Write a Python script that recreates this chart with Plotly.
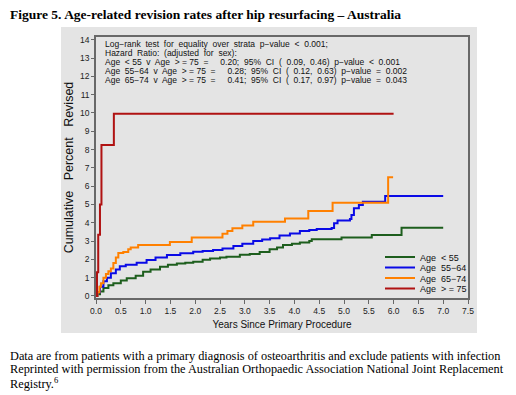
import plotly.graph_objects as go

# ---------------- data ----------------
lt55_x = [0, 0.03, 0.08, 0.15, 0.25, 0.35, 0.5, 0.62, 0.8, 0.95, 1.1, 1.29, 1.45, 1.63, 1.8, 1.96, 2.15, 2.3, 2.5, 2.63,
          2.9, 3.1, 3.3, 3.5, 3.65, 3.77, 3.95, 4.11, 4.3, 4.35, 4.95, 5.56, 6.16, 7.0]
lt55_y = [0, 0.1, 0.25, 0.43, 0.58, 0.7, 0.85, 0.97, 1.1, 1.33, 1.45, 1.6, 1.7, 1.78, 1.82, 1.87, 1.98, 2.05, 2.1, 2.15,
          2.25, 2.3, 2.4, 2.55, 2.65, 2.79, 2.85, 2.92, 3.0, 3.1, 3.19, 3.33, 3.73, 3.73]

a5564_x = [0, 0.03, 0.08, 0.15, 0.22, 0.3, 0.4, 0.48, 0.6, 0.82, 1.02, 1.2, 1.43, 1.7, 1.96, 2.15, 2.36, 2.55, 2.77,
           2.95, 3.17, 3.35, 3.51, 3.7, 3.91, 4.11, 4.3, 4.45, 4.75, 4.8, 4.87, 5.12, 5.15, 5.2, 5.3, 5.38, 5.83, 7.0]
a5564_y = [0, 0.2, 0.5, 0.8, 1.0, 1.24, 1.45, 1.62, 1.7, 1.82, 1.97, 2.1, 2.24, 2.33, 2.42, 2.46, 2.51, 2.6, 2.73,
           2.85, 3.0, 3.08, 3.15, 3.3, 3.42, 3.55, 3.6, 3.66, 3.72, 3.97, 4.12, 4.2, 4.42, 4.79, 4.97, 5.15, 5.46, 5.46]

a6574_x = [0, 0.03, 0.07, 0.1, 0.15, 0.2, 0.25, 0.3, 0.35, 0.4, 0.45, 0.55, 0.65, 0.7, 0.85, 1.49, 1.93, 2.55, 2.65,
           2.75, 2.95, 3.17, 3.81, 4.28, 4.77, 5.89, 5.99]
a6574_y = [0, 0.2, 0.5, 0.7, 1.0, 1.2, 1.35, 1.5, 1.8, 2.1, 2.35, 2.4, 2.55, 2.65, 2.78, 2.95, 3.2, 3.4, 3.55,
           3.7, 3.85, 4.06, 4.24, 4.64, 5.1, 6.49, 6.49]

ge75_x = [0, 0.02, 0.045, 0.08, 0.11, 0.36, 6.0]
ge75_y = [0, 1.3, 3.35, 5.0, 8.25, 9.95, 9.95]

series_names = ["Age  < 55", "Age  55\u221264", "Age  65\u221274", "Age  > = 75"]
series_colors = ["#1d5e1d", "#0a0ae6", "#ff8000", "#b01212"]

x_ticks = [0.0, 0.5, 1.0, 1.5, 2.0, 2.5, 3.0, 3.5, 4.0, 4.5, 5.0, 5.5, 6.0, 6.5, 7.0, 7.5]
y_ticks = list(range(0, 15))

stats_lines = [
    "Log\u2212rank  test  for  equality  over  strata  p\u2212value  <  0.001;",
    "Hazard  Ratio:  (adjusted  for  sex):",
    "Age  < 55  v  Age  > = 75  =     0.20;  95%  CI  (  0.09,  0.46)  p\u2212value  <  0.001",
    "Age  55\u221264  v  Age  > = 75  =     0.28;  95%  CI  (  0.12,  0.63)  p\u2212value  =  0.002",
    "Age  65\u221274  v  Age  > = 75  =     0.41;  95%  CI  (  0.17,  0.97)  p\u2212value  =  0.043",
]

title_text = "Figure 5. Age-related revision rates after hip resurfacing \u2013 Australia"
caption_lines = [
    "Data are from patients with a primary diagnosis of osteoarthritis and exclude patients with infection",
    "Reprinted with permission from the Australian Orthopaedic Association National Joint Replacement",
    "Registry.<sup>6</sup>",
]

# ---------------- figure ----------------
OFF = 8                      # page body margin of the html page
W, H = 516 - OFF, 395 - OFF
# plot area in window pixels: x 96..468, y 37..298
L = 96 - OFF
R = W - (468 - OFF)
T = 37 - OFF
B = H - (298 - OFF)
plot_h = H - T - B
plot_w = W - L - R

def py(p):  # window pixel y -> paper
    return (H - B - (p - OFF)) / plot_h

def px(p):  # window pixel x -> paper
    return (p - OFF - L) / plot_w

sans = "Liberation Sans, Arial, sans-serif"
serif = "Liberation Serif, Times New Roman, serif"
frame = "#686868"
panel = "#e4e4e4"

fig = go.Figure()
legend_keys = ["legend", "legend2", "legend3", "legend4"]
legend_rows = [257, 267.5, 278, 288.5]
for xs, ys, name, col, lk in zip([lt55_x, a5564_x, a6574_x, ge75_x],
                                 [lt55_y, a5564_y, a6574_y, ge75_y],
                                 series_names, series_colors, legend_keys):
    fig.add_trace(go.Scatter(x=xs, y=ys, mode="lines", name=name, legend=lk,
                             line=dict(color=col, width=2, shape="hv")))

shapes = [dict(type="rect", xref="paper", yref="paper", layer="below",
               x0=px(61), x1=px(477), y0=py(333), y1=py(27),
               fillcolor=panel, line=dict(width=0))]

annotations = []
for i, t in enumerate(stats_lines):
    annotations.append(dict(text=t, xref="paper", yref="paper", x=px(103), y=py(44 + 9 * i),
                            xanchor="left", yanchor="middle", showarrow=False,
                            font=dict(family=sans, size=8.5, color="#111")))
annotations.append(dict(text="<b>" + title_text + "</b>", xref="paper", yref="paper",
                        x=px(8), y=py(14.5), xanchor="left", yanchor="middle", showarrow=False,
                        font=dict(family=serif, size=13.5, color="#000")))
for i, t in enumerate(caption_lines):
    annotations.append(dict(text=t, xref="paper", yref="paper", x=px(8), y=py(355.5 + 13.5 * i),
                            xanchor="left", yanchor="middle", showarrow=False,
                            font=dict(family=serif, size=12.3, color="#000")))

layout_legends = {}
for lk, row in zip(legend_keys, legend_rows):
    layout_legends[lk] = dict(x=px(380), y=py(row), xanchor="left", yanchor="middle",
                              bgcolor="rgba(0,0,0,0)", borderwidth=0,
                              font=dict(family=sans, size=9, color="#111"),
                              itemwidth=30)

fig.update_layout(
    width=W, height=H,
    margin=dict(l=L, r=R, t=T, b=B, pad=0),
    paper_bgcolor="white", plot_bgcolor=panel,
    font=dict(family=sans, color="#111"),
    shapes=shapes, annotations=annotations,
    showlegend=True,
    **layout_legends,
    xaxis=dict(range=[0, 7.5], tickvals=x_ticks, ticktext=[f"{v:.1f}" for v in x_ticks],
               showgrid=False, zeroline=False, showline=True, linecolor=frame, linewidth=1.5,
               mirror=True, ticks="outside", ticklen=4, tickcolor=frame,
               tickfont=dict(size=8.5, family=sans, color="#222"),
               title=dict(text="Years Since Primary Procedure", standoff=6,
                          font=dict(size=10, family=sans, color="#111"))),
    yaxis=dict(range=[-0.11, 14.15], tickvals=y_ticks,
               showgrid=False, zeroline=False, showline=True, linecolor=frame, linewidth=1.5,
               mirror=True, ticks="outside", ticklen=3, tickcolor=frame,
               tickfont=dict(size=8.5, family=sans, color="#222"),
               title=dict(text="Cumulative   Percent   Revised", standoff=4,
                          font=dict(size=12.5, family=sans, color="#111"))),
)

fig.write_html("out.html")
